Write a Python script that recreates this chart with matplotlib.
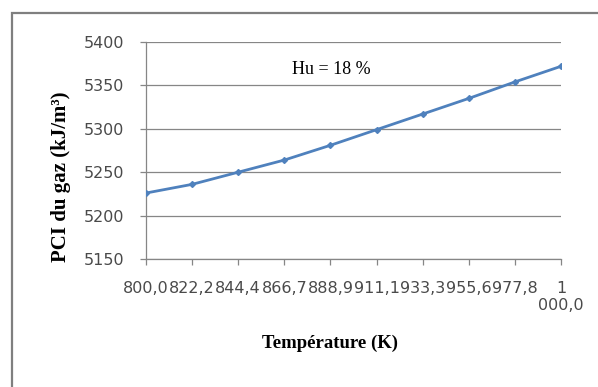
import matplotlib.pyplot as plt
from matplotlib.patches import Rectangle

# Data
temperature_labels = ['800,0', '822,2', '844,4', '866,7', '888,9',
                      '911,1', '933,3', '955,6', '977,8', '1\n000,0']
pci_values = [5226, 5236, 5250, 5264, 5281, 5299, 5317, 5335, 5354, 5372]
yticks = [5150, 5200, 5250, 5300, 5350, 5400]

grey = '#868686'
blue = '#4F81BD'

fig = plt.figure(figsize=(5.98, 3.87), dpi=100)

# outer chart frame (goes past the right and bottom edges)
fig.patches.append(Rectangle((12 / 598, -0.1), 1.2, (387 - 13) / 387 + 0.1,
                             transform=fig.transFigure, fill=False,
                             edgecolor='#7f7f7f', linewidth=1.6))

ax = fig.add_axes([146 / 598, 128 / 387, 415 / 598, 217 / 387])
x = list(range(len(pci_values)))
ax.plot(x, pci_values, color=blue, linewidth=2, marker='D', markersize=3,
        zorder=3)

ax.set_xlim(0, len(pci_values) - 1)
ax.set_ylim(5150, 5400)
ax.set_yticks(yticks)
ax.set_xticks(x)
ax.set_xticklabels(temperature_labels, multialignment='center')

ax.grid(axis='y', color=grey, linewidth=0.9)
ax.set_axisbelow(True)
for s in ['top', 'right']:
    ax.spines[s].set_visible(False)
for s in ['left', 'bottom']:
    ax.spines[s].set_color(grey)
    ax.spines[s].set_linewidth(0.9)

ax.tick_params(axis='both', colors=grey, labelcolor='#4a4a4a', labelsize=11.5,
               length=4, width=0.9)
ax.tick_params(axis='x', pad=11.5)
ax.tick_params(axis='y', pad=11.5)

serif = ['Liberation Serif', 'DejaVu Serif']
ax.text(0.352, 0.871, 'Hu = 18 %', transform=ax.transAxes, ha='left',
        va='center', fontsize=13, family=serif)

fig.text(61 / 598, 1 - 177 / 387, 'PCI du gaz (kJ/m³)', rotation=90,
         ha='center', va='center', fontsize=15, fontweight='bold',
         family=serif)
fig.text(330 / 598, 1 - 343 / 387, 'Température (K)', ha='center',
         va='center', fontsize=13.5, fontweight='bold', family=serif)

fig.savefig('out.png', dpi=100)
